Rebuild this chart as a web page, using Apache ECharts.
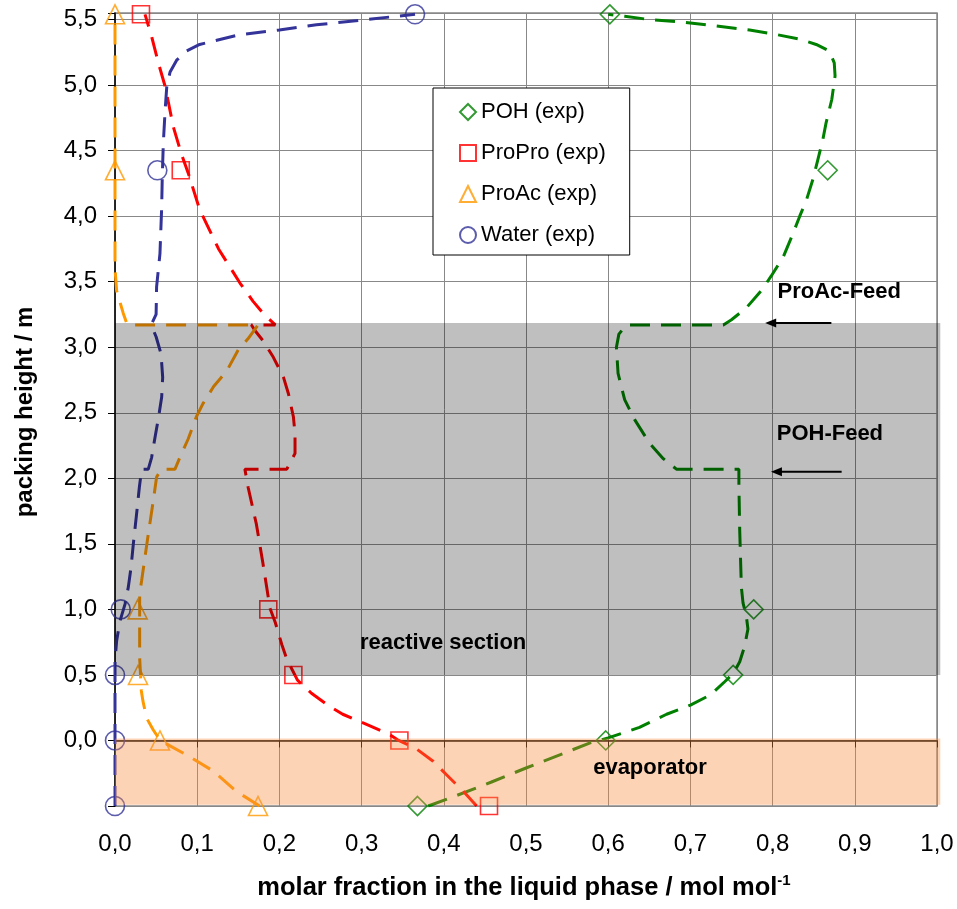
<!DOCTYPE html>
<html>
<head>
<meta charset="utf-8">
<script src="https://cdn.jsdelivr.net/npm/echarts@6/dist/echarts.min.js"></script>
<style>
html,body{margin:0;padding:0;background:#fff;}
#chart{width:957px;height:909px;}
</style>
</head>
<body>
<div id="chart"></div>
<script>
// ---- experimental data (packing height in m, molar fractions) ----
const expHeights   = [-0.5, 0.0, 0.5, 1.0, 4.35, 5.54];
const pohExp       = [0.368, 0.597, 0.752, 0.777, 0.867, 0.602];
const proproExp    = [0.455, 0.346, 0.217, 0.1865, 0.080, 0.0316];
const proacExp     = [0.174, 0.0547, 0.028, 0.0275, 0.0, 0.0];
const waterExp     = [0.0, 0.0, 0.0, 0.007, 0.0515, 0.365];

// ---- simulated profiles [x, height] ----
const pohModel = [[0.381,-0.5],[0.413,-0.426],[0.458,-0.317],[0.500,-0.21],[0.547,-0.095],[0.578,-0.018],[0.600,0.02],[0.638,0.10],[0.671,0.20],[0.700,0.27],[0.725,0.35],[0.742,0.45],[0.752,0.51],[0.760,0.60],[0.766,0.72],[0.770,0.85],[0.768,0.95],[0.764,1.05],[0.762,1.17],[0.760,1.60],[0.759,1.95],[0.759,2.07],[0.683,2.07],[0.667,2.15],[0.650,2.27],[0.632,2.45],[0.620,2.60],[0.612,2.80],[0.610,3.00],[0.613,3.10],[0.622,3.17],[0.740,3.17],[0.750,3.21],[0.768,3.30],[0.786,3.43],[0.798,3.54],[0.813,3.69],[0.825,3.87],[0.833,4.00],[0.841,4.12],[0.849,4.28],[0.855,4.43],[0.861,4.58],[0.865,4.71],[0.872,4.89],[0.876,5.07],[0.875,5.17],[0.869,5.26],[0.853,5.31],[0.833,5.35],[0.805,5.385],[0.772,5.42],[0.732,5.45],[0.691,5.48],[0.650,5.50],[0.620,5.525],[0.600,5.54]];
const proproModel = [[0.440,-0.5],[0.424,-0.39],[0.403,-0.26],[0.387,-0.158],[0.365,-0.056],[0.345,0.0],[0.334,0.046],[0.306,0.122],[0.277,0.20],[0.261,0.26],[0.239,0.36],[0.222,0.46],[0.209,0.62],[0.203,0.73],[0.195,0.90],[0.1885,1.01],[0.1845,1.17],[0.180,1.35],[0.172,1.65],[0.162,1.93],[0.158,2.07],[0.209,2.07],[0.219,2.19],[0.219,2.34],[0.217,2.47],[0.211,2.645],[0.205,2.77],[0.1925,2.925],[0.180,3.05],[0.170,3.13],[0.166,3.17],[0.195,3.17],[0.180,3.26],[0.168,3.35],[0.152,3.49],[0.126,3.75],[0.103,4.05],[0.089,4.33],[0.081,4.47],[0.071,4.68],[0.061,4.99],[0.0527,5.17],[0.0446,5.37],[0.0365,5.54]];
const proacModel = [[0.176,-0.5],[0.148,-0.39],[0.120,-0.235],[0.087,-0.11],[0.055,0.0],[0.0466,0.08],[0.0385,0.17],[0.034,0.30],[0.032,0.38],[0.030,0.63],[0.030,1.01],[0.030,1.12],[0.0324,1.22],[0.0365,1.40],[0.0405,1.575],[0.0466,1.83],[0.0506,2.01],[0.0565,2.07],[0.073,2.07],[0.079,2.16],[0.089,2.30],[0.099,2.47],[0.107,2.57],[0.120,2.70],[0.136,2.82],[0.150,2.98],[0.162,3.066],[0.174,3.17],[0.015,3.17],[0.010,3.26],[0.002,3.43],[0.0,3.60],[0.0,5.54]];
const waterModel = [[0.0,-0.5],[0.0,0.61],[0.002,0.76],[0.006,0.91],[0.0122,1.04],[0.0162,1.17],[0.0195,1.32],[0.0223,1.50],[0.0263,1.73],[0.0296,1.93],[0.0324,2.07],[0.0405,2.07],[0.0446,2.16],[0.0486,2.31],[0.0527,2.455],[0.0568,2.62],[0.058,2.77],[0.056,2.95],[0.050,3.08],[0.044,3.17],[0.050,3.25],[0.0506,3.46],[0.0547,3.715],[0.0568,4.07],[0.0575,4.30],[0.0588,4.56],[0.061,4.81],[0.063,4.99],[0.067,5.10],[0.075,5.19],[0.087,5.26],[0.103,5.31],[0.152,5.385],[0.200,5.42],[0.245,5.46],[0.306,5.50],[0.365,5.54]];

// ---- shaded column sections [x0, x1, h0, h1] ----
const sections = [[0.0, 1.004, 0.5, 3.185], [0.0, 1.004, -0.49, 0.015]];
const sectionColors = ['rgba(0,0,0,0.25)', 'rgba(248,140,60,0.38)'];

// ---- annotations ----
const notes = [
  {text: 'ProAc-Feed', x: 0.806, y: 3.422},
  {text: 'POH-Feed', x: 0.805, y: 2.339},
  {text: 'reactive section', x: 0.298, y: 0.746},
  {text: 'evaporator', x: 0.5817, y: -0.209}
];
const feedArrows = [[[0.8715, 3.185], [0.791, 3.185]], [[0.884, 2.051], [0.798, 2.051]]];

const names = ['POH (exp)', 'ProPro (exp)', 'ProAc (exp)', 'Water (exp)'];
const colors = ['#008000', '#ff0000', '#ff9900', '#333399'];
const symbols = ['diamond', 'rect', 'triangle', 'circle'];
const expSets = [pohExp, proproExp, proacExp, waterExp];
const models = [pohModel, proproModel, proacModel, waterModel];

const FONT = '"Liberation Sans", Arial, sans-serif';
const fmt = v => v.toFixed(1).replace('.', ',');

const series = [];
models.forEach((m, i) => {
  series.push({
    type: 'line', data: m, showSymbol: false, smooth: false, z: 2, silent: true,
    lineStyle: {color: colors[i], width: 3, type: [20, 11]}
  });
});
expSets.forEach((xs, i) => {
  series.push({
    name: names[i], type: 'scatter', z: 3,
    symbol: symbols[i], symbolSize: symbols[i] === 'rect' ? 17 : 19,
    data: xs.map((x, k) => [x, expHeights[k]]),
    itemStyle: {color: 'rgba(255,255,255,0)', borderColor: colors[i], borderWidth: 1.6}
  });
});
series.push({
  type: 'custom', z: 10, silent: true, clip: false,
  data: sections,
  encode: {x: [0, 1], y: [2, 3]},
  renderItem: (params, api) => {
    const p0 = api.coord([api.value(0), api.value(3)]);
    const p1 = api.coord([api.value(1), api.value(2)]);
    return {type: 'rect', shape: {x: p0[0], y: p0[1], width: p1[0] - p0[0], height: p1[1] - p0[1]},
            style: {fill: sectionColors[params.dataIndex]}};
  }
});

const chart = echarts.init(document.getElementById('chart'), null, {renderer: 'canvas'});
chart.setOption({
  animation: false,
  backgroundColor: '#fff',
  grid: {left: 115, right: 20, top: 13, bottom: 103, show: true, borderColor: '#888', borderWidth: 1.5},
  legend: {
    data: names.map((n, i) => ({name: n, icon: symbols[i]})),
    orient: 'vertical', left: 433, top: 88,
    padding: [13, 24, 9, 26], itemGap: 19, itemWidth: 16, itemHeight: 16,
    backgroundColor: '#fff', borderColor: '#000', borderWidth: 1, borderRadius: 0,
    textStyle: {fontFamily: FONT, fontSize: 22, color: '#000', lineHeight: 22}, z: 20
  },
  xAxis: {
    type: 'value', min: 0, max: 1, interval: 0.1,
    axisLine: {lineStyle: {color: '#000', width: 1.5}},
    axisTick: {show: true, length: 7, lineStyle: {color: '#000'}},
    axisLabel: {formatter: fmt, fontFamily: FONT, fontSize: 24, color: '#000', margin: 26},
    splitLine: {show: true, lineStyle: {color: '#888', width: 1}}
  },
  yAxis: {
    type: 'value', min: -0.5, max: 5.55, interval: 0.5,
    axisLine: {show: true, onZero: false, lineStyle: {color: '#000', width: 1.5}},
    axisTick: {show: true, length: 7, lineStyle: {color: '#000'}},
    axisLabel: {formatter: v => (v < -0.25 || v > 5.52) ? '' : fmt(v), fontFamily: FONT, fontSize: 24, color: '#000', margin: 18},
    splitLine: {show: true, lineStyle: {color: '#888', width: 1}}
  },
  series: series
});

// annotations placed in data coordinates
const graphics = [];
notes.forEach(n => {
  const p = chart.convertToPixel({gridIndex: 0}, [n.x, n.y]);
  graphics.push({type: 'text', x: p[0], y: p[1], z: 100,
    style: {text: n.text, fill: '#000', font: 'bold 22px ' + FONT, textAlign: 'left', textVerticalAlign: 'middle'}});
});
feedArrows.forEach(a => {
  const p0 = chart.convertToPixel({gridIndex: 0}, a[0]);
  const p1 = chart.convertToPixel({gridIndex: 0}, a[1]);
  graphics.push({type: 'line', z: 100, shape: {x1: p0[0], y1: p0[1], x2: p1[0] + 8, y2: p1[1]}, style: {stroke: '#000', lineWidth: 2}});
  graphics.push({type: 'polygon', z: 100, shape: {points: [[p1[0], p1[1]], [p1[0] + 11, p1[1] - 4.5], [p1[0] + 11, p1[1] + 4.5]]}, style: {fill: '#000'}});
});
// axis titles
graphics.push({type: 'text', x: 524, y: 888, z: 100,
  style: {text: '{a|molar fraction in the liquid phase / mol mol}{b|-1}', textAlign: 'center', textVerticalAlign: 'middle',
    rich: {a: {fontFamily: FONT, fontSize: 25.5, fontWeight: 'bold', fill: '#000', lineHeight: 30},
           b: {fontFamily: FONT, fontSize: 15, fontWeight: 'bold', fill: '#000', verticalAlign: 'top', lineHeight: 24}}}});
graphics.push({type: 'text', x: 25, y: 412, rotation: Math.PI / 2, z: 100,
  style: {text: 'packing height / m', fill: '#000', font: 'bold 24px ' + FONT, textAlign: 'center', textVerticalAlign: 'middle'}});
chart.setOption({graphic: graphics});
</script>
</body>
</html>
